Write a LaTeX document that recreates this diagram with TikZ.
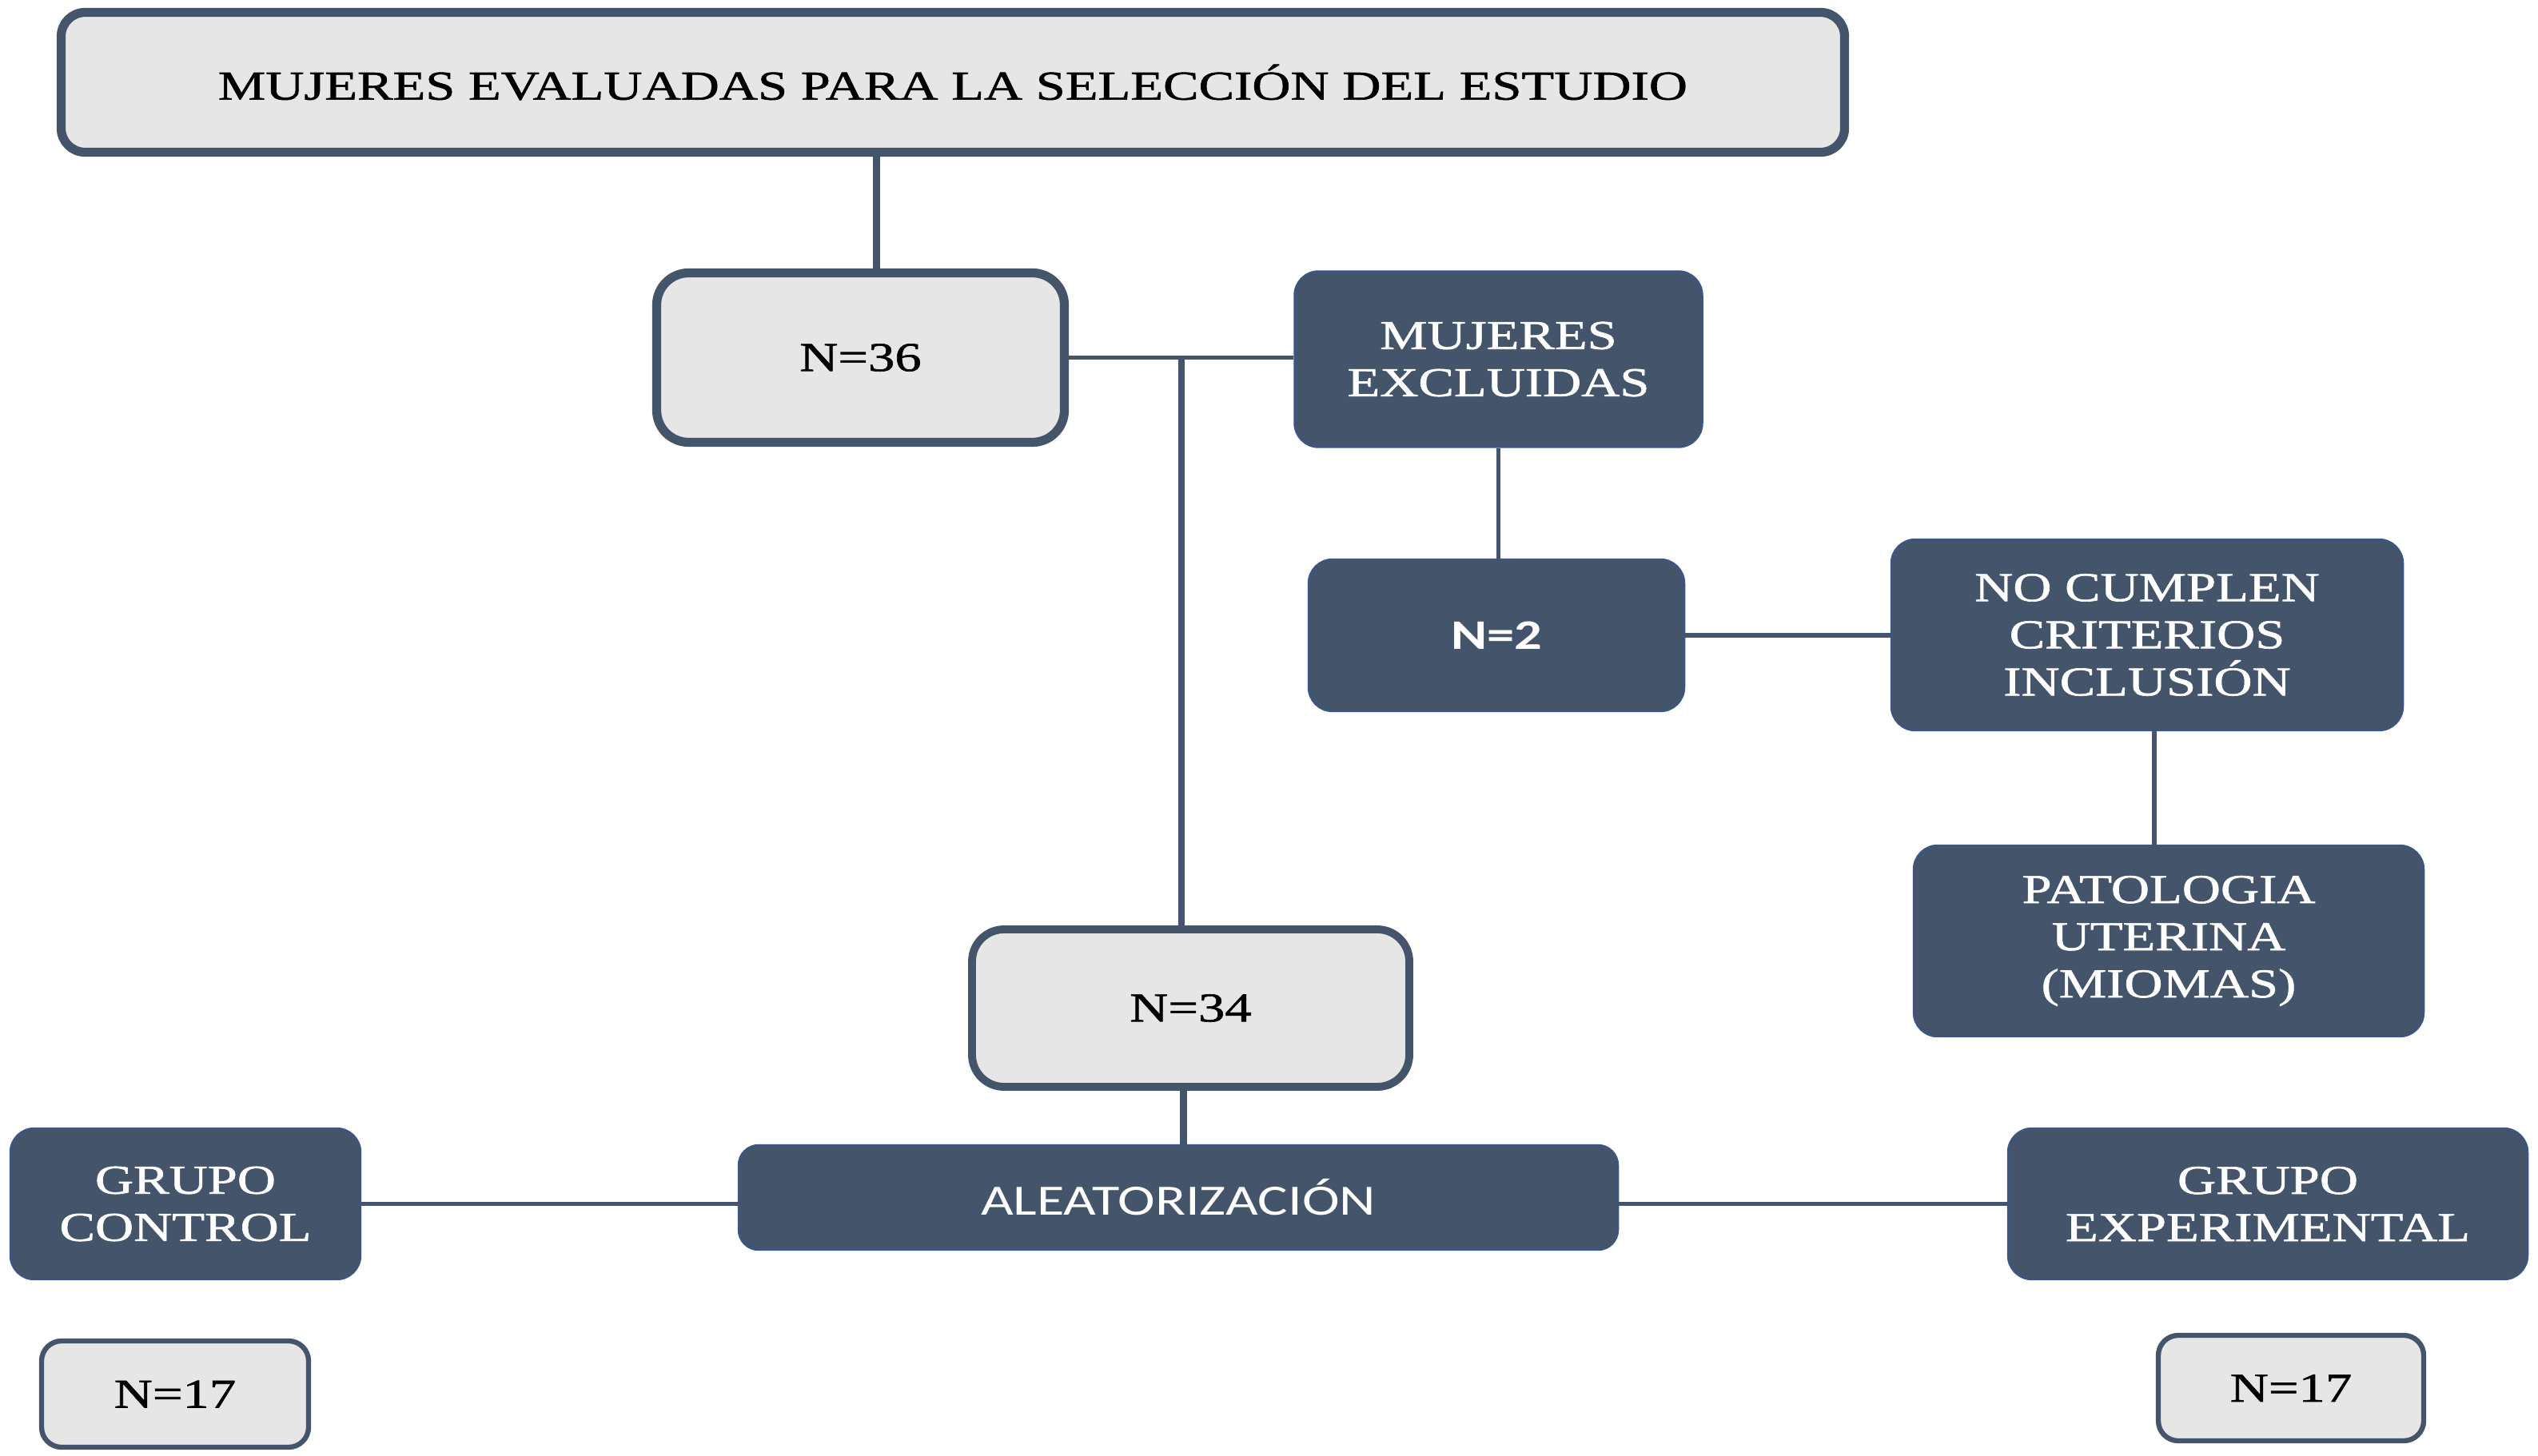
\documentclass[tikz,border=0pt]{standalone}
\usepackage{fontspec}
\setmainfont[FakeStretch=1.3, FakeBold=1.2]{Liberation Serif}
\newfontfamily\calib[FakeStretch=1.3]{Carlito}
\usepackage{xcolor}
\usepackage{tikz}
\usetikzlibrary{calc}

\definecolor{boxdark}{HTML}{44546A}
\definecolor{boxlight}{HTML}{E7E6E6}
\definecolor{edgeblue}{HTML}{3B5585}

\begin{document}
\begin{tikzpicture}[
        x=1cm, y=1cm,
        lite/.style={rectangle, draw=boxdark, fill=boxlight, line width=3.2pt, inner sep=0pt, align=center, rounded corners=0.4cm, font=\fontsize{14.6}{16.8}\selectfont, text=black},
        dark/.style={rectangle, draw=edgeblue, fill=boxdark, line width=0.7pt, inner sep=0pt, align=center, rounded corners=0.3cm, font=\fontsize{14.6}{16.8}\selectfont, text=white},
        link/.style={draw=boxdark, line width=1.5pt},
        thicklink/.style={draw=boxdark, line width=2.3pt}
    ]
        \useasboundingbox (0,0) rectangle (31.75,-18.22);

        % Top of the flow
        \node[lite, minimum width=22.31cm, minimum height=1.75cm, rounded corners=0.3cm] (title) at (11.92,-1.03) {MUJERES EVALUADAS PARA LA SELECCIÓN DEL ESTUDIO};
        \node[lite, minimum width=5.10cm, minimum height=2.12cm] (n36) at (10.765,-4.475) {N=36};

        % Excluded branch
        \node[dark, minimum width=5.10cm, minimum height=2.20cm] (excl) at (18.745,-4.495) {MUJERES\\EXCLUIDAS};
        \node[dark, minimum width=4.70cm, minimum height=1.90cm, font=\calib\bfseries\fontsize{15}{17}\selectfont] (n2) at (18.72,-7.95) {N=2};
        \node[dark, minimum width=6.40cm, minimum height=2.39cm] (nocumple) at (26.86,-7.945) {NO CUMPLEN\\CRITERIOS\\INCLUSIÓN};
        \node[dark, minimum width=6.38cm, minimum height=2.39cm] (patol) at (27.13,-11.775) {PATOLOGIA\\UTERINA\\(MIOMAS)};

        % Randomised part
        \node[lite, line width=2.8pt, minimum width=5.47cm, minimum height=1.97cm] (n34) at (14.895,-12.615) {N=34};
        \node[dark, minimum width=11.00cm, minimum height=1.31cm, rounded corners=0.25cm, font=\calib\fontsize{15.4}{17}\selectfont] (alea) at (14.74,-14.985) {ALEATORIZACIÓN};
        \node[dark, minimum width=4.38cm, minimum height=1.89cm] (gcontrol) at (2.32,-15.065) {GRUPO\\CONTROL};
        \node[dark, minimum width=6.50cm, minimum height=1.89cm] (gexp) at (28.37,-15.065) {GRUPO\\EXPERIMENTAL};
        \node[lite, line width=1.8pt, minimum width=3.34cm, minimum height=1.33cm, rounded corners=0.25cm] (n17a) at (2.19,-17.445) {N=17};
        \node[lite, line width=1.8pt, minimum width=3.32cm, minimum height=1.32cm, rounded corners=0.25cm] (n17b) at (28.66,-17.37) {N=17};

        % Connectors
        \coordinate (j) at ($(n36.east)!0.5!(n36.east -| excl.west)$);
        \draw[thicklink] ([xshift=2mm]n36.north |- title.south) -- ([xshift=2mm]n36.north);
        \draw[link] (n36.east) -- (n36.east -| excl.west);
        \draw[thicklink] (j) -- (j |- n34.north);
        \draw[link] (excl.south) -- (excl.south |- n2.north);
        \draw[link] (n2.east) -- (n2.east -| nocumple.west);
        \draw[link] ([xshift=0.9mm]nocumple.south) -- ([xshift=0.9mm]nocumple.south |- patol.north);
        \draw[thicklink] ([xshift=-0.9mm]n34.south) -- ([xshift=-0.9mm]n34.south |- alea.north);
        \draw[link] (gcontrol.east) -- (gcontrol.east -| alea.west);
        \draw[link] (gexp.west) -- (gexp.west -| alea.east);
    \end{tikzpicture}
\end{document}
